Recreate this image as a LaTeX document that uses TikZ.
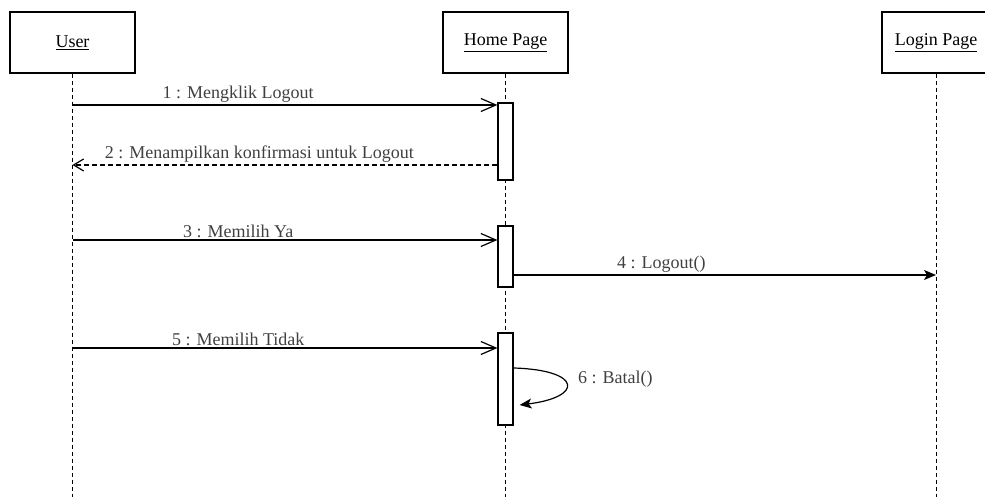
\documentclass[tikz,border=0pt]{standalone}
\usepackage{fontspec}
\setmainfont{Liberation Serif}
\usetikzlibrary{arrows.meta,positioning,calc}

\begin{document}
\begin{tikzpicture}[x=1pt, y=-1pt, line width=1.2pt,
    font=\fontsize{18}{21}\selectfont,
    obj/.style={draw, fill=white, minimum height=61pt, minimum width=125pt, inner sep=0pt},
    act/.style={draw, fill=white, minimum width=15pt, inner sep=0pt},
    life/.style={dash pattern=on 4pt off 3pt, line width=0.9pt},
    msg/.style={-{Straight Barb[length=15pt, width=13pt]}},
    ret/.style={dashed, dash pattern=on 5pt off 3pt, -{Straight Barb[length=10pt, width=12pt]}},
    call/.style={-{Stealth[length=12pt, width=10pt, inset=3pt]}},
    lbl/.style={above=1pt, inner sep=1pt, text=black!75}]
  \useasboundingbox (0,0) rectangle (985,497);

  % objects
  \node[obj] (user) at (72.5,42.5) {\underline{User}};
  \node[obj] (home) at (505.5,42.5) {\underline{Home Page}};
  \node[obj, minimum width=108pt] (login) at (936,42.5) {\underline{Login Page}};

  % lifelines
  \coordinate (userEnd) at (72.5,497);
  \coordinate (homeEnd) at (505.5,497);
  \coordinate (loginEnd) at (936,497);
  \draw[life] (user) -- (userEnd);
  \draw[life] (home) -- (homeEnd);
  \draw[life] (login) -- (loginEnd);

  % activations
  \node[act, minimum height=77pt] (bar1) at (505.5,141.5) {};
  \node[act, minimum height=61pt] (bar2) at (505.5,256.5) {};
  \node[act, minimum height=92pt] (bar3) at (505.5,379) {};

  % message rows
  \coordinate (m1) at (72.5,105);
  \coordinate (m2) at (72.5,165);
  \coordinate (m3) at (72.5,240);
  \coordinate (m4) at (936,275);
  \coordinate (m5) at (72.5,348);

  \draw[msg] (m1) -- (m1 -| bar1.west) node[lbl, pos=0.39] {1 : Mengklik Logout};
  \draw[ret] (m2 -| bar1.west) -- (m2) node[lbl, pos=0.56] {2 : Menampilkan konfirmasi untuk Logout};
  \draw[msg] (m3) -- (m3 -| bar2.west) node[lbl, pos=0.39] {3 : Memilih Ya};
  \draw[call] (m4 -| bar2.east) -- (m4) node[lbl, pos=0.35] {4 : Logout()};
  \draw[msg] (m5) -- (m5 -| bar3.west) node[lbl, pos=0.39] {5 : Memilih Tidak};

  % self call
  \coordinate (s1) at ($(bar3.east)+(0,-11)$);
  \coordinate (s2) at ($(bar3.east)+(6,26)$);
  \draw[call] (s1) .. controls (582,370) and (584,397) .. (s2);
  \node[right=64pt of bar3.east, inner sep=0pt, text=black!75] (batal) {6 : Batal()};
\end{tikzpicture}
\end{document}
